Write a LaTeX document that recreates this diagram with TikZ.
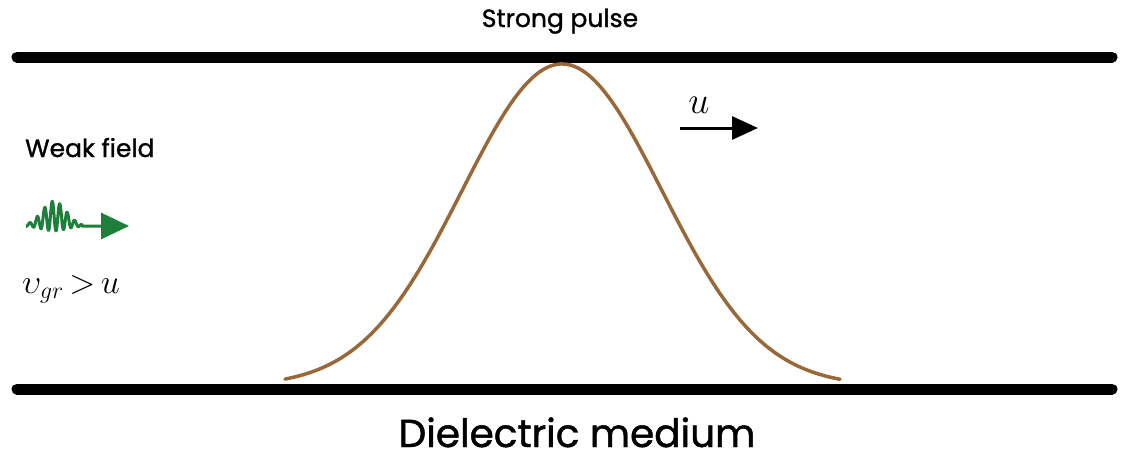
\RequirePackage{fix-cm}
\documentclass[tikz,border=0pt]{standalone}
\usepackage{fontspec}
\setmainfont{Poppins}[FakeBold=1.2]
\usetikzlibrary{arrows.meta}
\definecolor{pulsebrown}{RGB}{153,104,56}
\definecolor{wavegreen}{RGB}{28,128,58}
\begin{document}
\begin{tikzpicture}[x=1pt,y=-1pt,
  wall/.style={line width=11pt,line cap=round,black},
  lbl/.style={inner sep=0pt,font=\fontsize{25}{27}\selectfont},
  bigl/.style={inner sep=0pt,font=\fontsize{39}{40}\selectfont},
  hand/.style={inner sep=0pt,font=\fontsize{34}{36}\selectfont},
  velarrow/.style={line width=3pt,-{Triangle[length=26pt,width=23pt]}},
  greenarrow/.style={wavegreen,line width=3pt,-{Triangle[length=28pt,width=26pt]}}]
\useasboundingbox (0,0) rectangle (1122,459);
% walls
\coordinate (tl) at (17,57);
\coordinate (tr) at (1112,57);
\coordinate (bl) at (17,389);
\coordinate (br) at (1112,389);
\draw[wall] (tl) -- (tr);
\draw[wall] (bl) -- (br);
% pulse
\draw[pulsebrown,line width=3.5pt,line cap=round]
  plot[domain=-277:278,samples=160,smooth]
  ({562+\x},{386-322*exp(-(\x/100)*(\x/100)/2)});
% labels
\node[lbl,anchor=base] (strong) at (560,27) {Strong pulse};
\node[lbl,anchor=base west] (weak) at (25,157) {Weak field};
\node[bigl,anchor=base] (diel) at (577,447) {Dielectric medium};
% velocity arrow
\coordinate (ua) at (680,128);
\coordinate (ub) at (758,128);
\draw[velarrow] (ua) -- (ub);
\node[hand,anchor=base,font=\fontsize{38}{40}\selectfont] (u) at (699,113) {$u$};
% green wave
\coordinate (ws) at (82,226);
\coordinate (we) at (129,226);
\draw[greenarrow,line join=round]
  plot[domain=26:82,samples=260,smooth]
  (\x,{226-exp(-((\x-54)/17)*((\x-54)/17))*(10+15*sin(48*(\x-26)-90))}) -- (ws) -- (we);
\node[hand,anchor=base west] (vgr) at (22,293) {$\upsilon_{gr}\,{>}\,u$};
\end{tikzpicture}
\end{document}
